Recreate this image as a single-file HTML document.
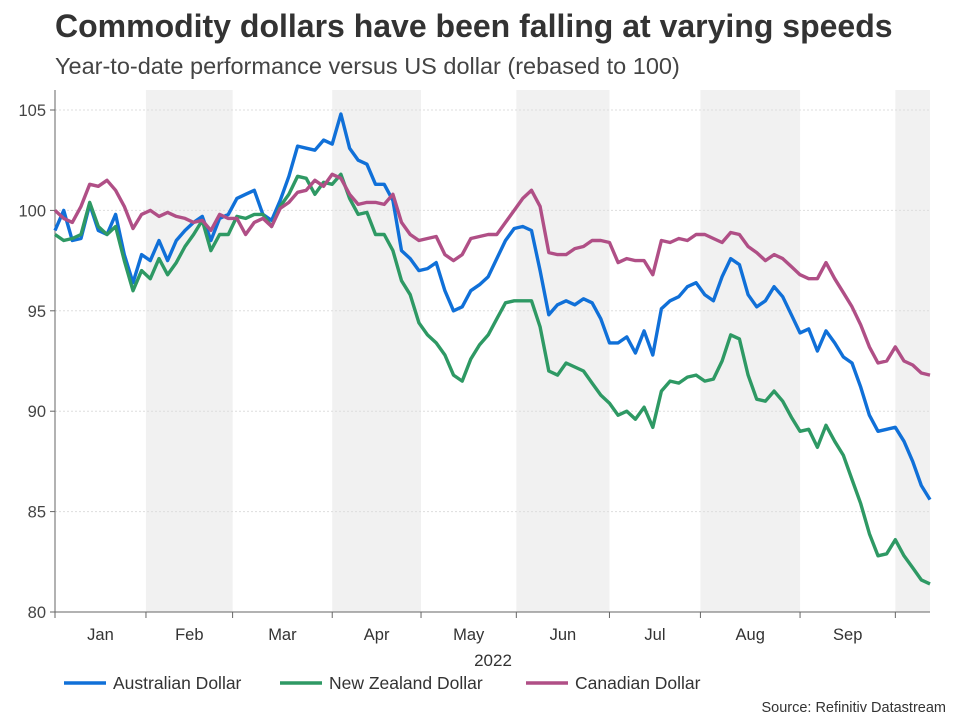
<!DOCTYPE html>
<html><head><meta charset="utf-8"><style>
body{margin:0;background:#fff;font-family:"Liberation Sans",sans-serif;}
svg text{font-family:"Liberation Sans",sans-serif;}
</style></head><body>
<svg id="chart" width="960" height="720" xmlns="http://www.w3.org/2000/svg">
<text x="55" y="37" font-size="32" font-weight="bold" fill="#333">Commodity dollars have been falling at varying speeds</text>
<text x="55" y="74" font-size="23.5" fill="#444">Year-to-date performance versus US dollar (rebased to 100)</text>
<g id="bands"></g><g id="grid"></g><g id="axes"></g><g id="lines"></g>
<text x="493" y="666" font-size="17" fill="#333" text-anchor="middle">2022</text>
<g>
<line x1="64" y1="683" x2="106" y2="683" stroke="#1070d8" stroke-width="3.5"/>
<text x="113" y="689" font-size="17.5" fill="#333">Australian Dollar</text>
<line x1="280" y1="683" x2="322" y2="683" stroke="#2e9964" stroke-width="3.5"/>
<text x="329" y="689" font-size="17.5" fill="#333">New Zealand Dollar</text>
<line x1="526" y1="683" x2="568" y2="683" stroke="#b04f86" stroke-width="3.5"/>
<text x="575" y="689" font-size="17.5" fill="#333">Canadian Dollar</text>
</g>
<text x="946" y="712" font-size="14.5" fill="#333" text-anchor="end">Source: Refinitiv Datastream</text>
</svg>
<script>
const months=["Jan","Feb","Mar","Apr","May","Jun","Jul","Aug","Sep"];
const monthStarts=[0,21,41,64,84.5,106.5,128,149,172,194];
const yTicks=[80,85,90,95,100,105];
const aud=[99.0,100.0,98.5,98.6,100.3,99.0,98.8,99.8,97.8,96.4,97.8,97.5,98.5,97.5,98.5,99.0,99.4,99.7,98.5,99.6,99.8,100.6,100.8,101.0,99.8,99.5,100.5,101.7,103.2,103.1,103.0,103.5,103.3,104.8,103.1,102.5,102.3,101.3,101.3,100.5,98.0,97.6,97.0,97.1,97.4,96.0,95.0,95.2,96.0,96.3,96.7,97.6,98.5,99.1,99.2,99.0,97.0,94.8,95.3,95.5,95.3,95.6,95.4,94.6,93.4,93.4,93.7,92.9,94.0,92.8,95.1,95.5,95.7,96.2,96.4,95.8,95.5,96.7,97.6,97.3,95.8,95.2,95.5,96.2,95.7,94.8,93.9,94.1,93.0,94.0,93.4,92.7,92.4,91.2,89.8,89.0,89.1,89.2,88.5,87.5,86.3,85.6];
const nzd=[98.8,98.5,98.6,98.8,100.4,99.2,98.8,99.2,97.5,96.0,97.0,96.6,97.6,96.8,97.4,98.2,98.8,99.5,98.0,98.8,98.8,99.7,99.6,99.8,99.8,99.2,100.2,100.8,101.7,101.6,100.8,101.4,101.3,101.8,100.6,99.8,99.9,98.8,98.8,98.0,96.5,95.8,94.4,93.8,93.4,92.8,91.8,91.5,92.6,93.3,93.8,94.6,95.4,95.5,95.5,95.5,94.2,92.0,91.8,92.4,92.2,92.0,91.4,90.8,90.4,89.8,90.0,89.6,90.2,89.2,91.0,91.5,91.4,91.7,91.8,91.5,91.6,92.5,93.8,93.6,91.8,90.6,90.5,91.0,90.5,89.7,89.0,89.1,88.2,89.3,88.5,87.8,86.6,85.4,83.9,82.8,82.9,83.6,82.8,82.2,81.6,81.4];
const cad=[100.0,99.6,99.4,100.2,101.3,101.2,101.5,101.0,100.2,99.1,99.8,100.0,99.7,99.9,99.7,99.6,99.4,99.5,99.0,99.8,99.6,99.6,98.8,99.4,99.6,99.2,100.1,100.4,100.9,101.0,101.5,101.2,101.8,101.6,100.8,100.3,100.4,100.4,100.3,100.8,99.4,98.8,98.5,98.6,98.7,97.8,97.5,97.8,98.6,98.7,98.8,98.8,99.4,100.0,100.6,101.0,100.2,97.9,97.8,97.8,98.1,98.2,98.5,98.5,98.4,97.4,97.6,97.5,97.5,96.8,98.5,98.4,98.6,98.5,98.8,98.8,98.6,98.4,98.9,98.8,98.2,97.9,97.5,97.8,97.6,97.2,96.8,96.6,96.6,97.4,96.6,95.9,95.2,94.3,93.2,92.4,92.5,93.2,92.5,92.3,91.9,91.8];
const X0=55,X1=930,Y0=612,Y1=110;
const xs=d=>X0+d*(X1-X0)/202;
const ys=v=>Y0-(v-80)*(Y0-Y1)/25;
const NS="http://www.w3.org/2000/svg";
function mk(tag,attrs,parent){const e=document.createElementNS(NS,tag);for(const k in attrs)e.setAttribute(k,attrs[k]);document.getElementById(parent).appendChild(e);return e;}
for(let m=1;m<monthStarts.length;m+=2){
 const end=m+1<monthStarts.length?monthStarts[m+1]:202;
 const r=mk('rect',{x:xs(monthStarts[m]),y:90,width:xs(end)-xs(monthStarts[m]),height:Y0-90,fill:'#f1f1f1'},'bands');
 
 
}
yTicks.forEach(v=>{
 const l=mk('line',{x1:X0,x2:X1,y1:ys(v),y2:ys(v),stroke:'#ddd','stroke-dasharray':'2,2'},'grid');
 
 
 const tk=mk('line',{x1:X0-5,x2:X0,y1:ys(v),y2:ys(v),stroke:'#666'},'axes');
 
 
 const t=mk('text',{x:X0-9,y:ys(v)+6,'font-size':16.5,fill:'#444','text-anchor':'end'},'axes');
 t.textContent=v;
 
 
});
const ya=mk('line',{x1:X0,x2:X0,y1:90,y2:Y0,stroke:'#666'},'axes');


const xa=mk('line',{x1:X0,x2:X1,y1:Y0,y2:Y0,stroke:'#666'},'axes');


monthStarts.forEach((d,i)=>{
 const tk=mk('line',{x1:xs(d),x2:xs(d),y1:Y0,y2:Y0+6,stroke:'#666'},'axes');
 
 
 if(i<months.length){
  const t=mk('text',{x:(xs(d)+xs(monthStarts[i+1]))/2,y:Y0+28,'font-size':16.5,fill:'#333','text-anchor':'middle'},'axes');
  t.textContent=months[i];
  
  
 }
});
[[aud,'#1070d8','aud-line'],[nzd,'#2e9964','nzd-line'],[cad,'#b04f86','cad-line']].forEach(([arr,c,n])=>{
 const p=mk('polyline',{points:arr.map((v,k)=>xs(2*k).toFixed(1)+','+ys(v).toFixed(1)).join(' '),fill:'none',stroke:c,'stroke-width':3.4,'stroke-linejoin':'round'},'lines');
 
 
});
</script>
</body></html>
